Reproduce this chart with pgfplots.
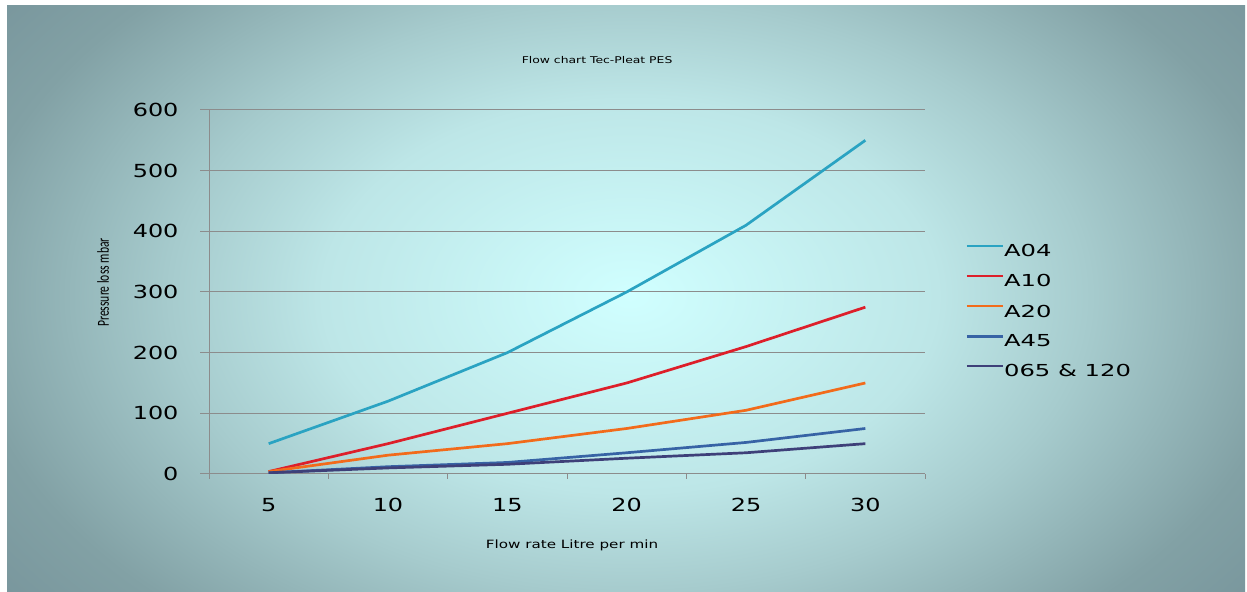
\documentclass[border=0pt]{standalone}
\usepackage{pgfplots}
\pgfplotsset{compat=1.18}
\usepackage{fontspec}
\setmainfont{DejaVu Sans}[FakeStretch=1.33]
\newfontfamily\legfont{DejaVu Sans}[FakeStretch=1.47]
\newfontfamily\ylabfont{Carlito}

\definecolor{bgA}{HTML}{D0FFFF}
\definecolor{bgB}{HTML}{BDE6E7}
\definecolor{bgC}{HTML}{A6CBCD}
\definecolor{bgD}{HTML}{82A1A5}
\definecolor{bgE}{HTML}{76939A}
\definecolor{cA04}{HTML}{2AA3C2}
\definecolor{cA10}{HTML}{DD1F2A}
\definecolor{cA20}{HTML}{F26B1B}
\definecolor{cA45}{HTML}{3763A5}
\definecolor{cO65}{HTML}{3E4079}
\definecolor{gridgrey}{HTML}{8C8C8C}

% background glow
\pgfdeclareradialshading{bgshade}{\pgfpoint{0bp}{0bp}}{%
  color(0bp)=(bgA); color(12bp)=(bgB); color(18bp)=(bgC);
  color(26bp)=(bgD); color(32bp)=(bgE); color(71bp)=(bgE)}

\begin{document}
\begin{tikzpicture}[x=1bp,y=1bp]
  \path[use as bounding box] (0,0) rectangle (1247,592);
  \fill[white] (0,0) rectangle (1247,592);
  \begin{scope}
    \clip (7,0) rectangle (1245,586);
    \shade[shading=bgshade] (-10,-114) rectangle (1270,706);
  \end{scope}
  \begin{axis}[
    at={(209bp,118bp)}, anchor=south west,
    scale only axis, width=716bp, height=364bp,
    xmin=-0.5, xmax=5.5, ymin=0, ymax=600,
    axis x line*=bottom, axis y line*=left,
    axis line style={gridgrey, line width=1bp},
    xtick={0,1,2,3,4,5},
    xticklabels={5,10,15,20,25,30},
    major x tick style={draw=none},
    minor xtick={-0.5,0.5,1.5,2.5,3.5,4.5,5.5},
    minor x tick style={gridgrey, line width=1bp},
    minor tick length=5bp,
    ytick={0,100,...,600},
    major tick length=9bp,
    tick align=outside,
    y tick style={gridgrey, line width=1bp},
    ymajorgrids,
    major grid style={gridgrey, line width=1bp},
    /pgf/number format/assume math mode=true,
    ticklabel style={font=\fontsize{18bp}{20bp}\selectfont},
    yticklabel style={anchor=east, xshift=-18bp},
    xticklabel style={anchor=center, yshift=-22bp},
    title={Flow chart Tec-Pleat PES},
    title style={at={(axis description cs:0.542,1.12)}, anchor=center,
      font=\fontsize{9.3bp}{11bp}\selectfont},
    xlabel={Flow rate Litre per min},
    xlabel style={at={(axis description cs:0.507,-0.195)}, anchor=center,
      font=\fontsize{11.4bp}{13bp}\selectfont},
    ylabel={\scalebox{1}[1.45]{\ylabfont\fontsize{11.6bp}{13bp}\selectfont Pressure loss mbar}},
    ylabel style={at={(axis description cs:-0.148,0.526)}, anchor=center, rotate=0},
    legend cell align=left,
    legend style={at={(axis description cs:1.052,0.636)}, anchor=north west,
      draw=none, fill=none,
      font=\legfont\fontsize{16.5bp}{18bp}\selectfont,
      nodes={inner sep=0pt},
      row sep=16.3bp,
      /tikz/every even column/.append style={column sep=4bp}},
    legend image code/.code={\draw[#1] (0bp,5.5bp) -- (36bp,5.5bp);},
    every axis plot/.append style={line width=2.7bp, mark=none},
  ]
    \addplot[cA04] coordinates {(0,50) (1,120) (2,200) (3,300) (4,410) (5,550)};
    \addlegendentry{A04}
    \addplot[cA10] coordinates {(0,4) (1,50) (2,100) (3,150) (4,210) (5,275)};
    \addlegendentry{A10}
    \addplot[cA20] coordinates {(0,4) (1,31) (2,50) (3,75) (4,105) (5,150)};
    \addlegendentry{A20}
    \addplot[cA45] coordinates {(0,2) (1,12) (2,19) (3,35) (4,52) (5,75)};
    \addlegendentry{A45}
    \addplot[cO65] coordinates {(0,2) (1,10) (2,16) (3,26) (4,35) (5,50)};
    \addlegendentry{065 \& 120}
  \end{axis}
\end{tikzpicture}
\end{document}
